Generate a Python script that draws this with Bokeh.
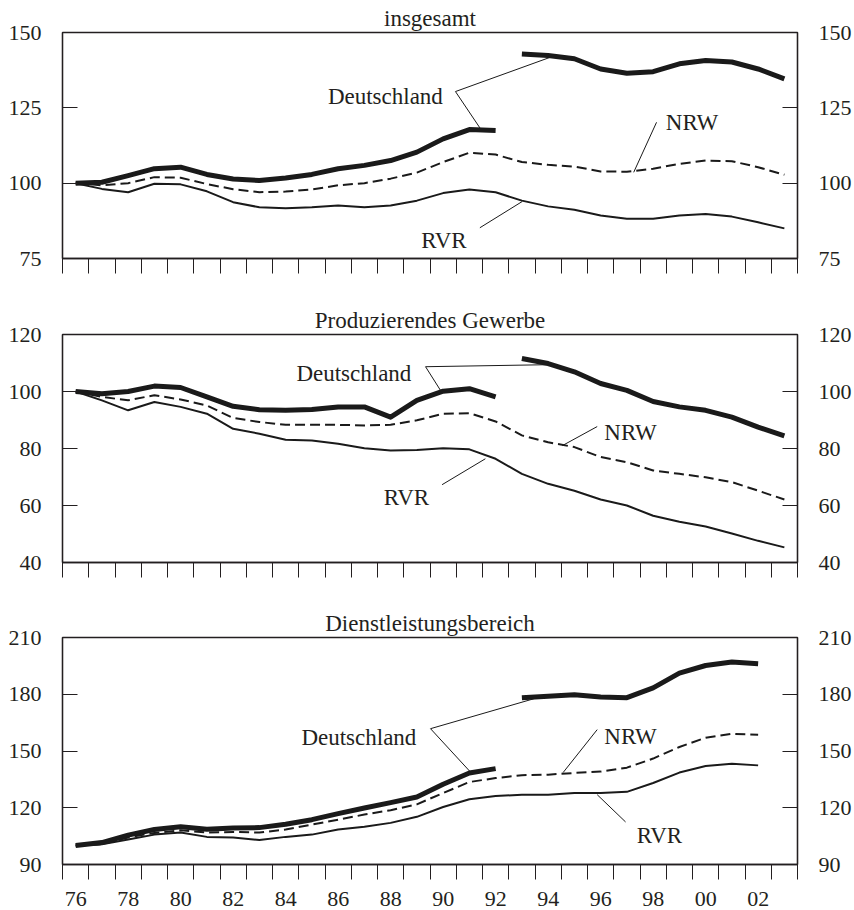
from bokeh.plotting import figure
from bokeh.models import Range1d, LinearAxis, FixedTicker, Label
from bokeh.layouts import column
from bokeh.embed import file_html
from bokeh.resources import INLINE

# ---------------- data ----------------
years_west = list(range(1976, 1993))       # Westdeutschland bis 1992
years_unified = list(range(1993, 2004))    # Deutschland ab 1993
years_all = list(range(1976, 2004))
years_serv = list(range(1976, 2003))
years_unified_serv = list(range(1993, 2003))

# insgesamt
de_total_west = [100.0, 100.3, 102.5, 104.8, 105.3, 102.9, 101.4, 100.9, 101.7,
                 102.9, 104.8, 105.9, 107.5, 110.3, 114.7, 117.8, 117.5]
de_total_unified = [142.9, 142.4, 141.3, 137.9, 136.5, 137.0, 139.6, 140.7,
                    140.2, 137.9, 134.6]
nrw_total = [100.0, 99.3, 100.0, 102.0, 101.8, 99.7, 98.0, 97.0, 97.2, 97.9,
             99.3, 100.0, 101.5, 103.5, 107.0, 110.1, 109.5, 107.0, 106.1,
             105.5, 103.9, 103.8, 104.8, 106.4, 107.5, 107.3, 105.3, 102.8]
rvr_total = [100.0, 98.1, 97.0, 99.8, 99.6, 97.3, 93.7, 92.0, 91.7, 92.0, 92.6,
             92.0, 92.6, 94.2, 96.7, 97.9, 97.0, 94.2, 92.3, 91.2, 89.3, 88.2,
             88.2, 89.3, 89.8, 88.9, 87.0, 85.0]

# Produzierendes Gewerbe
de_prod_west = [100.0, 99.2, 100.0, 101.9, 101.4, 98.1, 94.8, 93.6, 93.4, 93.7,
                94.6, 94.6, 91.0, 96.9, 100.1, 101.0, 98.1]
de_prod_unified = [111.6, 109.8, 106.9, 102.8, 100.4, 96.5, 94.6, 93.4, 91.0,
                   87.5, 84.4]
nrw_prod = [100.0, 98.1, 96.9, 98.7, 97.2, 95.1, 90.7, 89.3, 88.3, 88.3, 88.3,
            88.1, 88.3, 89.9, 92.2, 92.4, 89.5, 84.6, 82.2, 80.5, 77.0, 75.2,
            72.3, 71.1, 69.9, 68.2, 65.2, 62.1]
rvr_prod = [100.0, 96.9, 93.4, 96.3, 94.6, 92.2, 86.9, 85.2, 83.1, 82.8, 81.7,
            80.1, 79.3, 79.5, 80.1, 79.7, 76.4, 71.1, 67.6, 65.2, 62.1, 60.0,
            56.4, 54.3, 52.6, 50.2, 47.6, 45.3]

# Dienstleistungsbereich
de_serv_west = [100.0, 101.6, 105.5, 108.5, 109.9, 108.6, 109.3, 109.5, 111.3,
                113.7, 116.9, 119.9, 122.7, 125.7, 132.4, 138.4, 140.7]
de_serv_unified = [178.2, 179.0, 179.7, 178.5, 178.2, 183.4, 191.2, 195.2,
                   197.0, 196.1]
nrw_serv = [100.0, 100.8, 104.3, 106.7, 108.1, 106.9, 107.2, 106.9, 108.5,
            111.1, 113.7, 116.4, 118.7, 121.8, 127.8, 133.6, 135.7, 137.2,
            137.5, 138.4, 139.1, 141.2, 146.0, 152.1, 157.0, 159.1, 158.6]
rvr_serv = [100.0, 100.7, 103.2, 105.8, 106.9, 104.6, 104.3, 102.9, 104.6,
            105.8, 108.5, 109.9, 112.0, 115.2, 120.4, 124.5, 126.2, 126.9,
            126.9, 127.8, 127.8, 128.4, 133.1, 138.6, 142.1, 143.3, 142.4]

titles = ["insgesamt", "Produzierendes Gewerbe", "Dienstleistungsbereich"]
y_ticks_total = [75, 100, 125, 150]
y_ticks_prod = [40, 60, 80, 100, 120]
y_ticks_serv = [90, 120, 150, 180, 210]
x_label_years = list(range(1976, 2003, 2))
x_tick_labels = ["76", "78", "80", "82", "84", "86", "88", "90", "92", "94",
                 "96", "98", "00", "02"]
year_bounds = [y - 0.5 for y in range(1976, 2005)]

# series labels (text, x, y) and callout lines (x0, y0, x1, y1)
labels_total = [("Deutschland", 1987.8, 128.8), ("NRW", 1999.48, 120.1),
                ("RVR", 1990.03, 81.0)]
callouts_total = [(1990.47, 130.4, 1994.28, 142.4), (1990.47, 130.4, 1991.42, 118.1),
                  (1998.13, 120.2, 1997.26, 103.6), (1991.40, 85.2, 1993.01, 93.9)]
labels_prod = [("Deutschland", 1986.6, 106.3), ("NRW", 1997.14, 85.5),
               ("RVR", 1988.6, 62.9)]
callouts_prod = [(1989.33, 108.7, 1993.96, 109.4), (1989.33, 108.7, 1989.9, 100.4),
                 (1995.87, 87.7, 1994.54, 81.0), (1989.96, 67.3, 1991.61, 76.4)]
labels_serv = [("Deutschland", 1986.79, 157.4), ("NRW", 1997.14, 157.7),
               ("RVR", 1998.24, 105.5)]
callouts_serv = [(1989.52, 161.8, 1993.45, 177.6), (1989.52, 161.8, 1991.04, 138.9),
                 (1995.87, 161.3, 1994.57, 138.6), (1996.95, 112.5, 1995.87, 126.9)]

FONT = "Liberation Serif"
INK = "#231f20"
LINE = "#1a1a1a"
X_MID = 1989.5


def make_panel(title, yr, yticks, de_w, de_u, yrs_u, nrw, rvr, yrs, labels,
               callouts, height, top, bottom, show_x_labels):
    p = figure(width=854, height=height, output_backend="svg",
               toolbar_location=None, x_range=Range1d(1975.5, 2003.5),
               y_range=Range1d(*yr), min_border_left=62, min_border_right=57,
               min_border_top=top, min_border_bottom=bottom)
    p.xgrid.visible = False
    p.ygrid.visible = False
    p.outline_line_color = INK
    p.outline_line_width = 1.3
    p.background_fill_color = "white"
    p.border_fill_color = "white"

    # y axes left + right
    for side in ("left", "right"):
        if side == "left":
            ax = p.yaxis[0]
        else:
            ax = LinearAxis()
            p.add_layout(ax, "right")
        ax.ticker = FixedTicker(ticks=yticks)
        ax.major_tick_in = 15
        ax.major_tick_out = 0
        ax.minor_tick_in = 0
        ax.minor_tick_out = 0
        ax.major_tick_line_color = INK
        ax.axis_line_color = INK
        ax.axis_line_width = 1.3
        ax.major_label_text_font = FONT
        ax.major_label_text_font_size = "22px"
        ax.major_label_text_color = INK
        ax.major_label_standoff = 21

    # bottom axis: ticks at year boundaries, labels at year centres
    xa = p.xaxis[0]
    if show_x_labels:
        xa.ticker = FixedTicker(ticks=x_label_years, minor_ticks=year_bounds)
        xa.major_label_overrides = {y: t for y, t in zip(x_label_years, x_tick_labels)}
    else:
        xa.ticker = FixedTicker(ticks=[], minor_ticks=year_bounds)
    xa.major_tick_in = 0
    xa.major_tick_out = 0
    xa.minor_tick_in = 0
    xa.minor_tick_out = 15
    xa.minor_tick_line_color = INK
    xa.axis_line_color = INK
    xa.axis_line_width = 1.3
    xa.major_label_text_font = FONT
    xa.major_label_text_font_size = "22px"
    xa.major_label_text_color = INK
    xa.major_label_standoff = 12

    # panel title as a single centred label above the frame
    ta = LinearAxis(ticker=FixedTicker(ticks=[X_MID]),
                    major_label_overrides={X_MID: title})
    ta.axis_line_color = None
    ta.major_tick_line_color = None
    ta.minor_tick_line_color = None
    ta.major_tick_out = 0
    ta.major_tick_in = 0
    ta.major_label_standoff = 2
    ta.major_label_text_font = FONT
    ta.major_label_text_font_size = "23px"
    ta.major_label_text_line_height = 1.0
    ta.major_label_text_color = INK
    p.add_layout(ta, "above")

    # series
    p.line(yrs, rvr, line_color=LINE, line_width=2, line_join="round")
    p.line(yrs, nrw, line_color=LINE, line_width=2, line_dash="10 5",
           line_join="round")
    p.line(years_west, de_w, line_color=LINE, line_width=5, line_join="round")
    p.line(yrs_u, de_u, line_color=LINE, line_width=5, line_join="round")

    # callouts
    p.segment([c[0] for c in callouts], [c[1] for c in callouts],
              [c[2] for c in callouts], [c[3] for c in callouts],
              line_color=LINE, line_width=1)
    for txt, x, y in labels:
        p.add_layout(Label(x=x, y=y, text=txt, text_align="center",
                           text_baseline="alphabetic", text_font=FONT,
                           text_font_size="23px", text_color=INK))
    return p


p1 = make_panel(titles[0], (75, 150), y_ticks_total, de_total_west,
                de_total_unified, years_unified, nrw_total, rvr_total,
                years_all, labels_total, callouts_total, 302, 32, 44, False)
p2 = make_panel(titles[1], (40, 120), y_ticks_prod, de_prod_west,
                de_prod_unified, years_unified, nrw_prod, rvr_prod,
                years_all, labels_prod, callouts_prod, 303, 32, 43, False)
p3 = make_panel(titles[2], (90, 210), y_ticks_serv, de_serv_west,
                de_serv_unified, years_unified_serv, nrw_serv, rvr_serv,
                years_serv, labels_serv, callouts_serv, 305, 32, 46, True)

layout = column(p1, p2, p3, spacing=0)
open("out.html", "w").write(file_html(layout, INLINE))
